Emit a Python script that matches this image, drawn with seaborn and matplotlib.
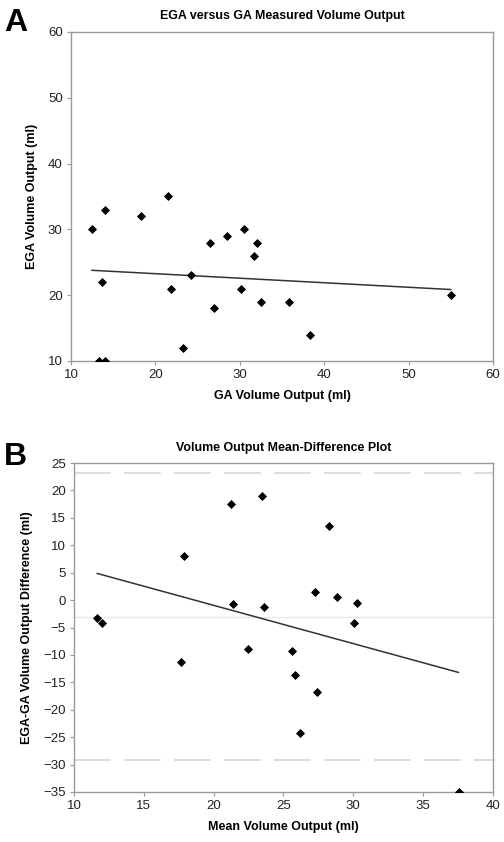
import numpy as np
import pandas as pd
import matplotlib
matplotlib.use("Agg")
import matplotlib.pyplot as plt
import seaborn as sns

# Panel A: GA vs EGA measured volume output (ml)
ga_volume = [12.45, 14.0, 13.7, 13.3, 14.0, 18.3, 21.5, 21.8, 23.3, 24.2, 26.5,
             27.0, 28.5, 30.1, 30.5, 31.7, 32.0, 32.5, 35.8, 38.3, 55.0]
ega_volume = [30, 33, 22, 10, 10, 32, 35, 21, 12, 23, 28,
              18, 29, 21, 30, 26, 28, 19, 19, 14, 20]

# Panel B: mean-difference (Bland-Altman style)
mean_volume = [11.65, 12.03, 17.64, 17.88, 21.25, 21.39, 22.49, 23.49, 23.64, 25.62,
               25.81, 26.19, 27.29, 27.43, 28.29, 28.80, 30.06, 30.30, 37.54]
diff_volume = [-3.3, -4.1, -11.3, 8.1, 17.5, -0.8, -9.0, 18.9, -1.2, -9.2,
               -13.7, -24.2, 1.5, -16.8, 13.5, 0.6, -4.1, -0.6, -35.0]
mean_diff = -3.1
limits = [23.1, -29.2]

df_a = pd.DataFrame({"ga": ga_volume, "ega": ega_volume})
df_b = pd.DataFrame({"mean": mean_volume, "diff": diff_volume})

sns.set_style("white")
plt.rcParams["font.family"] = ["Liberation Sans", "DejaVu Sans"]
plt.rcParams["text.color"] = "black"
plt.rcParams["axes.labelcolor"] = "black"

fig = plt.figure(figsize=(5.04, 8.42), dpi=100)
ax_a = fig.add_axes([0.1409, 0.5713, 0.8373, 0.3907])
ax_b = fig.add_axes([0.1468, 0.0594, 0.8313, 0.3907])

point_kw = dict(s=16, alpha=1, linewidths=0.6, edgecolors="black", zorder=3)
line_kw = dict(color="#333333", linewidth=1.1)

sns.regplot(data=df_a, x="ga", y="ega", ax=ax_a, ci=None, truncate=True, marker="D",
            color="black", scatter_kws=point_kw, line_kws=line_kw)
sns.regplot(data=df_b, x="mean", y="diff", ax=ax_b, ci=None, truncate=True, marker="D",
            color="black", scatter_kws=point_kw, line_kws=line_kw)

# mean difference and limits of agreement
ax_b.axhline(mean_diff, color="#e6e6e6", linewidth=0.9, zorder=1)
for lim in limits:
    ax_b.axhline(lim, color="#d6d6d6", linewidth=1.2, dashes=(22, 8), zorder=1)

ax_a.set_xlim(10, 60)
ax_a.set_ylim(10, 60)
ax_a.set_xticks(range(10, 61, 10))
ax_a.set_yticks(range(10, 61, 10))
ax_b.set_xlim(10, 40)
ax_b.set_ylim(-35, 25)
ax_b.set_xticks(range(10, 41, 5))
ax_b.set_yticks(range(-35, 26, 5))

titles = ["EGA versus GA Measured Volume Output", "Volume Output Mean-Difference Plot"]
xlabels = ["GA Volume Output (ml)", "Mean Volume Output (ml)"]
ylabels = ["EGA Volume Output (ml)", "EGA-GA Volume Output Difference (ml)"]

for ax, title, xl, yl in zip([ax_a, ax_b], titles, xlabels, ylabels):
    ax.set_title(title, fontsize=8.9, fontweight="bold", pad=9)
    ax.set_xlabel(xl, fontsize=9, fontweight="bold", labelpad=6)
    ax.set_ylabel(yl, fontsize=9, fontweight="bold", labelpad=7)
    for sp in ax.spines.values():
        sp.set_visible(True)
        sp.set_color("#9a9a9a")
        sp.set_linewidth(1.0)
    ax.tick_params(axis="both", which="major", labelsize=9.5, length=3,
                   width=0.8, color="#9a9a9a", direction="out",
                   bottom=True, left=True, labelcolor="#222222", pad=3)

fig.text(0.008, 0.991, "A", fontsize=23, fontweight="bold", va="top", ha="left")
fig.text(0.008, 0.475, "B", fontsize=23, fontweight="bold", va="top", ha="left")

fig.savefig("out.png", dpi=100)
